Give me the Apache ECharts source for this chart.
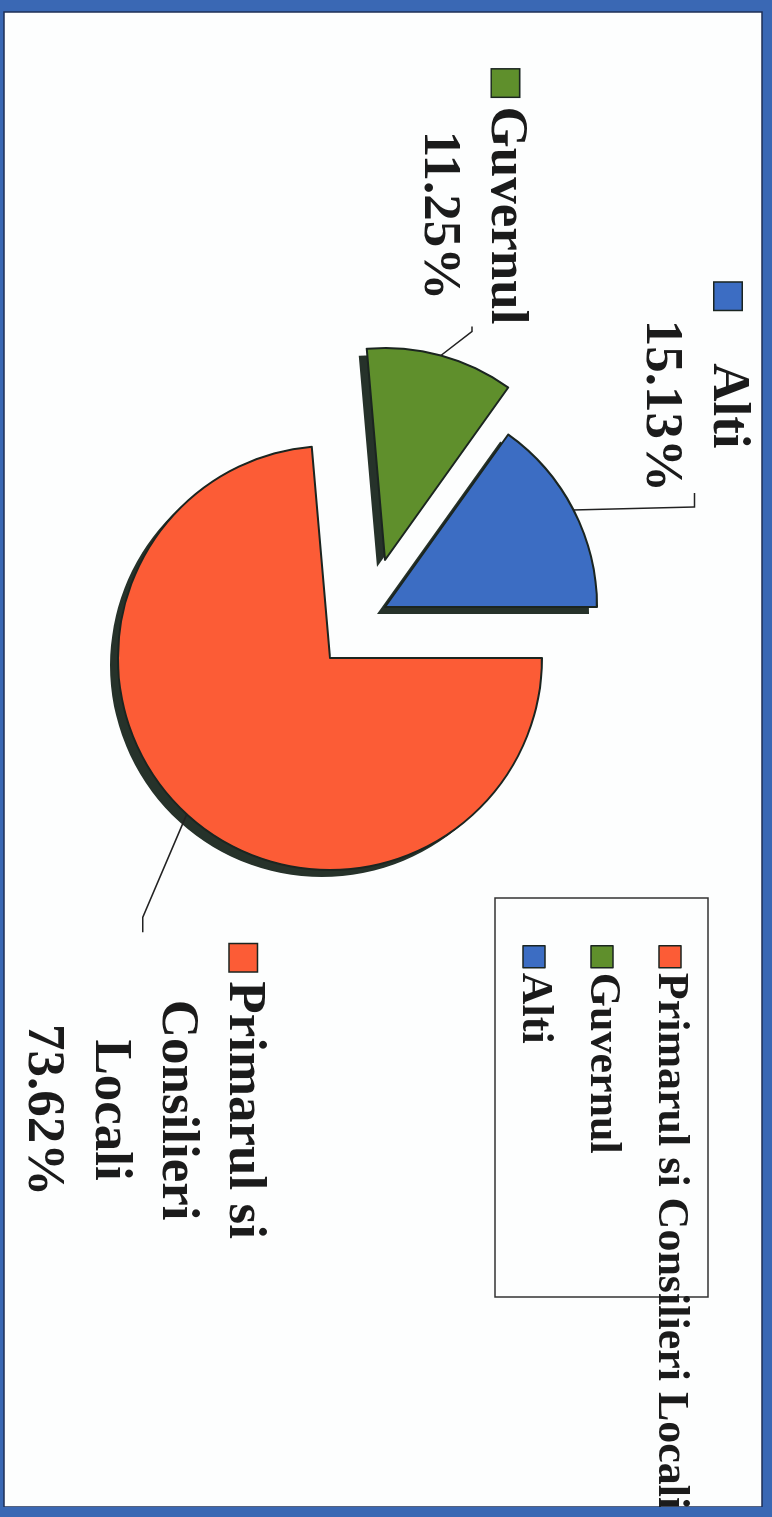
<!DOCTYPE html>
<html><head><meta charset="utf-8">
<script src="https://cdn.jsdelivr.net/npm/echarts@6/dist/echarts.min.js"></script>
<style>
html,body{margin:0;padding:0;width:772px;height:1517px;overflow:hidden;background:#3a68b4;}
#chart{position:absolute;left:0;top:0;width:1517px;height:772px;transform-origin:0 0;transform:translate(772px,0) rotate(90deg);}
</style></head><body><div id="chart"></div>
<script>
const categories = ['Primarul si Consilieri Locali', 'Guvernul', 'Alti'];
const labelTexts = ['Primarul si\nConsilieri\nLocali', 'Guvernul', 'Alti'];
const values = [73.62, 11.25, 15.13];
const colors = ['#fc5c36', '#5f8f2c', '#3c6dc3'];

// pie geometry / label-line styling
const PIE_CENTER = [658, 442];
const PIE_RADIUS = 212;
const sliceShift = [[0, 0], [-98, -55], [-51, -55]];   // pulled-out slices
const lineBend = [[103, 44], [-24, -31], [-3, -121]];
const lineTail = [15, 5, 14];
const labelGap = [12, 2, 1];

const FONT = 'Liberation Serif, Times New Roman, serif';
const rich = {
  t: {fontFamily: FONT, fontWeight: 'bold', fontSize: 53, lineHeight: 67, color: '#1b1b1b', align: 'center'},
  g: {width: 10, height: 10, align: 'left'},
  s: {width: 37, height: 10, align: 'left'}
};
colors.forEach((c, i) => {
  rich['m' + i] = {width: 27, height: 27, backgroundColor: c, borderColor: '#1b2520', borderWidth: 1.5, align: 'left'};
});

const pieBase = {
  type: 'pie', radius: PIE_RADIUS, startAngle: 90, clockwise: true,
  avoidLabelOverlap: false, emphasis: {disabled: true}, silent: true, legendHoverLink: false
};
const NONE = {color: 'rgba(0,0,0,0)', borderWidth: 0};

function sliceSeries(k, shadow) {
  return Object.assign({}, pieBase, {
    z: shadow ? 2 : 3,
    center: [PIE_CENTER[0] + sliceShift[k][0] + (shadow ? 7 : 0), PIE_CENTER[1] + sliceShift[k][1] + (shadow ? 8 : 0)],
    label: {show: false}, labelLine: {show: false},
    data: categories.map((name, i) => ({
      name: name, value: values[i],
      itemStyle: i !== k ? NONE : (shadow ? {color: '#26322a', borderWidth: 0} : {color: colors[i], borderColor: '#1b2520', borderWidth: 2})
    }))
  });
}

const series = [];
categories.forEach((_, k) => series.push(sliceSeries(k, true)));
categories.forEach((_, k) => series.push(sliceSeries(k, false)));
series.push(Object.assign({}, pieBase, {
  // labels with leader lines
  z: 4, center: PIE_CENTER,
  itemStyle: NONE,
  label: {
    show: true, position: 'outside', distanceToLabelLine: 3,
    formatter: function (p) {
      const lines = labelTexts[p.dataIndex].split('\n');
      lines.push(p.value.toFixed(2) + '%');
      return lines.map((l, k) => (k === 0 ? '{m' + p.dataIndex + '|}{g|}' : '{s|}') + '{t|' + l + '}').join('\n');
    },
    rich: rich
  },
  labelLine: {show: true, length: 30, length2: 10, lineStyle: {color: '#222', width: 1.5}},
  labelLayout: function (p) {
    const i = p.dataIndex;
    const p0 = p.labelLinePoints[0];
    const a = [p0[0] + sliceShift[i][0], p0[1] + sliceShift[i][1]];
    const b = [a[0] + lineBend[i][0], a[1] + lineBend[i][1]];
    const side = p.align === 'right' ? -1 : 1;
    const e = [b[0] + side * lineTail[i], b[1]];
    return {x: e[0] + side * labelGap[i], y: e[1], align: p.align, verticalAlign: 'middle', labelLinePoints: [a, b, e]};
  },
  data: categories.map((name, i) => ({name: name, value: values[i]}))
}));

const chart = echarts.init(document.getElementById('chart'));
chart.setOption({
  animation: false,
  backgroundColor: '#3a68b4',
  graphic: [
    {type: 'rect', z: 0, shape: {x: 12, y: 10, width: 1495, height: 758}, style: {fill: '#fdfefe', stroke: '#1e2f55', lineWidth: 1.5}},
    {type: 'rect', z: 1, shape: {x: 898, y: 64, width: 399, height: 213}, style: {fill: 'none', stroke: '#333', lineWidth: 1.5}},
    {type: 'rect', z: 100, shape: {x: 1507, y: 0, width: 10, height: 772}, style: {fill: '#3a68b4'}}
  ],
  legend: {
    orient: 'vertical', left: 945, top: 80, padding: 0, itemGap: 24,
    itemWidth: 22, itemHeight: 22, icon: 'rect', selectedMode: false,
    data: categories.map((name, i) => ({name: name, itemStyle: {color: colors[i], borderColor: '#1b2520', borderWidth: 1.5}})),
    textStyle: {fontFamily: FONT, fontWeight: 'bold', fontSize: 44, lineHeight: 44, color: '#1b1b1b'}
  },
  series: series
});
</script></body></html>
